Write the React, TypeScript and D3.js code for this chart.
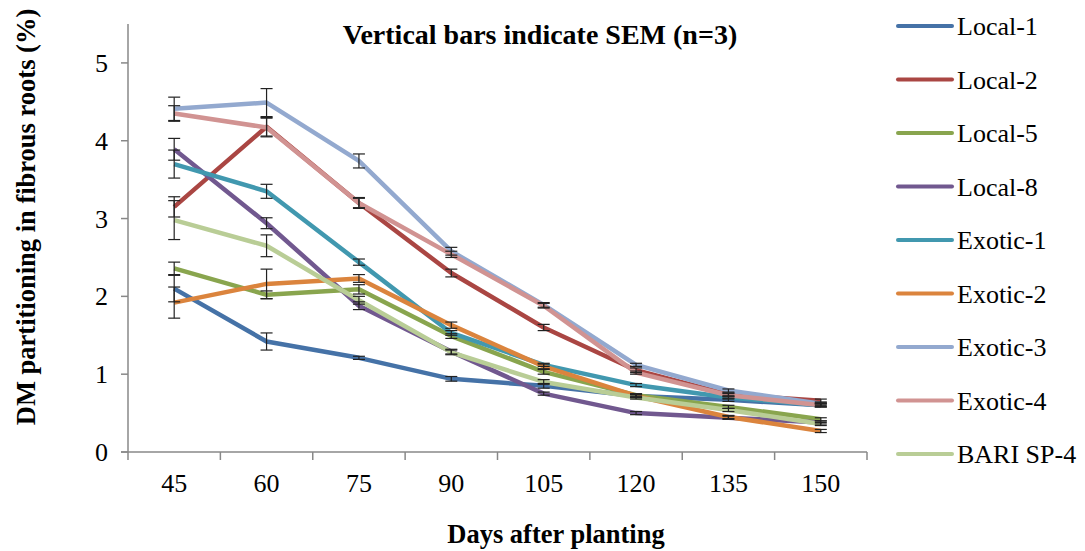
import React from "react";
import * as d3 from "d3";

const categories = ["45", "60", "75", "90", "105", "120", "135", "150"];
const yTicks = [0, 1, 2, 3, 4, 5];

const seriesNames = ["Local-1", "Local-2", "Local-5", "Local-8", "Exotic-1", "Exotic-2", "Exotic-3", "Exotic-4", "BARI SP-4"];
const seriesColors = ["#4572A7", "#AA4643", "#89A54E", "#71588F", "#4198AF", "#DB843D", "#93A9CF", "#D19392", "#B9CD96"];

const local1 = [2.10, 1.42, 1.21, 0.94, 0.85, 0.72, 0.67, 0.60];
const local2 = [3.15, 4.18, 3.20, 2.30, 1.60, 1.05, 0.74, 0.66];
const local5 = [2.36, 2.02, 2.09, 1.49, 1.03, 0.73, 0.58, 0.42];
const local8 = [3.89, 2.94, 1.88, 1.29, 0.75, 0.50, 0.44, 0.38];
const exotic1 = [3.70, 3.35, 2.44, 1.53, 1.12, 0.86, 0.70, 0.60];
const exotic2 = [1.92, 2.16, 2.23, 1.63, 1.10, 0.72, 0.45, 0.27];
const exotic3 = [4.41, 4.49, 3.74, 2.58, 1.89, 1.12, 0.79, 0.62];
const exotic4 = [4.35, 4.17, 3.20, 2.54, 1.88, 1.02, 0.73, 0.60];
const bari = [2.98, 2.65, 1.95, 1.28, 0.90, 0.70, 0.54, 0.36];

const errLocal1 = [0.17, 0.11, 0.02, 0.03, 0.03, 0.02, 0.02, 0.02];
const errLocal2 = [0.13, 0.12, 0.07, 0.05, 0.04, 0.03, 0.02, 0.02];
const errLocal5 = [0.08, 0.05, 0.06, 0.03, 0.03, 0.02, 0.02, 0.02];
const errLocal8 = [0.14, 0.07, 0.05, 0.03, 0.02, 0.02, 0.02, 0.02];
const errExotic1 = [0.18, 0.09, 0.04, 0.03, 0.02, 0.02, 0.02, 0.02];
const errExotic2 = [0.20, 0.19, 0.05, 0.04, 0.03, 0.02, 0.02, 0.02];
const errExotic3 = [0.15, 0.18, 0.09, 0.05, 0.03, 0.02, 0.02, 0.02];
const errExotic4 = [0.10, 0.12, 0.06, 0.04, 0.03, 0.02, 0.02, 0.02];
const errBari = [0.25, 0.14, 0.05, 0.03, 0.03, 0.02, 0.02, 0.02];

const seriesValues = [local1, local2, local5, local8, exotic1, exotic2, exotic3, exotic4, bari];
const seriesErrors = [errLocal1, errLocal2, errLocal5, errLocal8, errExotic1, errExotic2, errExotic3, errExotic4, errBari];

const W = 1085;
const H = 551;
const FONT = "'Liberation Serif', 'Times New Roman', serif";

export default function App() {
  const x = d3.scaleBand<string>().domain(categories).range([128, 867]).padding(0);
  const y = d3.scaleLinear().domain([0, 5.5]).range([452, 24]);
  const cx = (c: string) => (x(c) ?? 0) + x.bandwidth() / 2;
  const line = d3
    .line<number>()
    .x((_, i) => cx(categories[i]))
    .y((d) => y(d));
  const axisColor = "#888888";
  const boundaries = [...categories.map((c) => x(c) ?? 0), 867];

  return (
    <div style={{ position: "absolute", left: 0, top: 0 }}>
      <svg width={W} height={H} style={{ display: "block", background: "#fff" }}>
        {/* axes */}
        <line x1={128} x2={128} y1={y(5.5)} y2={y(0)} stroke={axisColor} strokeWidth={1.5} />
        <line x1={121} x2={867} y1={y(0)} y2={y(0)} stroke={axisColor} strokeWidth={1.5} />
        {yTicks.map((t) => (
          <g key={"yt" + t}>
            <line x1={121} x2={128} y1={y(t)} y2={y(t)} stroke={axisColor} strokeWidth={1.5} />
            <text x={108} y={y(t) + 9} textAnchor="end" fontFamily={FONT} fontSize={26} fill="#000">
              {t}
            </text>
          </g>
        ))}
        {boundaries.map((b, i) => (
          <line key={"xt" + i} x1={b} x2={b} y1={y(0)} y2={y(0) + 8} stroke={axisColor} strokeWidth={1.5} />
        ))}
        {categories.map((c) => (
          <text key={"xl" + c} x={cx(c)} y={492} textAnchor="middle" fontFamily={FONT} fontSize={26} fill="#000">
            {c}
          </text>
        ))}

        {/* lines */}
        {seriesValues.map((vals, si) => (
          <path
            key={"s" + si}
            d={line(vals) ?? ""}
            fill="none"
            stroke={seriesColors[si]}
            strokeWidth={4.5}
            strokeLinejoin="round"
            strokeLinecap="butt"
          />
        ))}

        {/* error bars */}
        {seriesValues.map((vals, si) =>
          vals.map((v, i) => {
            const e = seriesErrors[si][i];
            const px = cx(categories[i]);
            const y1 = y(v + e);
            const y2 = y(v - e);
            return (
              <g key={"e" + si + "-" + i} stroke="#222" strokeWidth={1.2}>
                <line x1={px} x2={px} y1={y1} y2={y2} />
                <line x1={px - 6} x2={px + 6} y1={y1} y2={y1} />
                <line x1={px - 6} x2={px + 6} y1={y2} y2={y2} />
              </g>
            );
          })
        )}

        {/* title */}
        <text x={540} y={44} textAnchor="middle" fontFamily={FONT} fontSize={28} fontWeight="bold" fill="#000">
          Vertical bars indicate SEM (n=3)
        </text>

        {/* axis titles */}
        <text x={556} y={543} textAnchor="middle" fontFamily={FONT} fontSize={26.5} fontWeight="bold" fill="#000">
          Days after planting
        </text>
        <text
          transform="translate(35,217) rotate(-90)"
          textAnchor="middle"
          fontFamily={FONT}
          fontSize={26.5}
          fontWeight="bold"
          fill="#000"
        >
          DM partitioning in fibrous roots (%)
        </text>

        {/* legend */}
        {seriesNames.map((n, i) => {
          const ly = 26 + i * 53.5;
          return (
            <g key={"lg" + i}>
              <line x1={898} x2={952} y1={ly} y2={ly} stroke={seriesColors[i]} strokeWidth={4} strokeLinecap="round" />
              <text x={957} y={ly + 9} fontFamily={FONT} fontSize={26} fill="#000">
                {n}
              </text>
            </g>
          );
        })}
      </svg>
    </div>
  );
}
